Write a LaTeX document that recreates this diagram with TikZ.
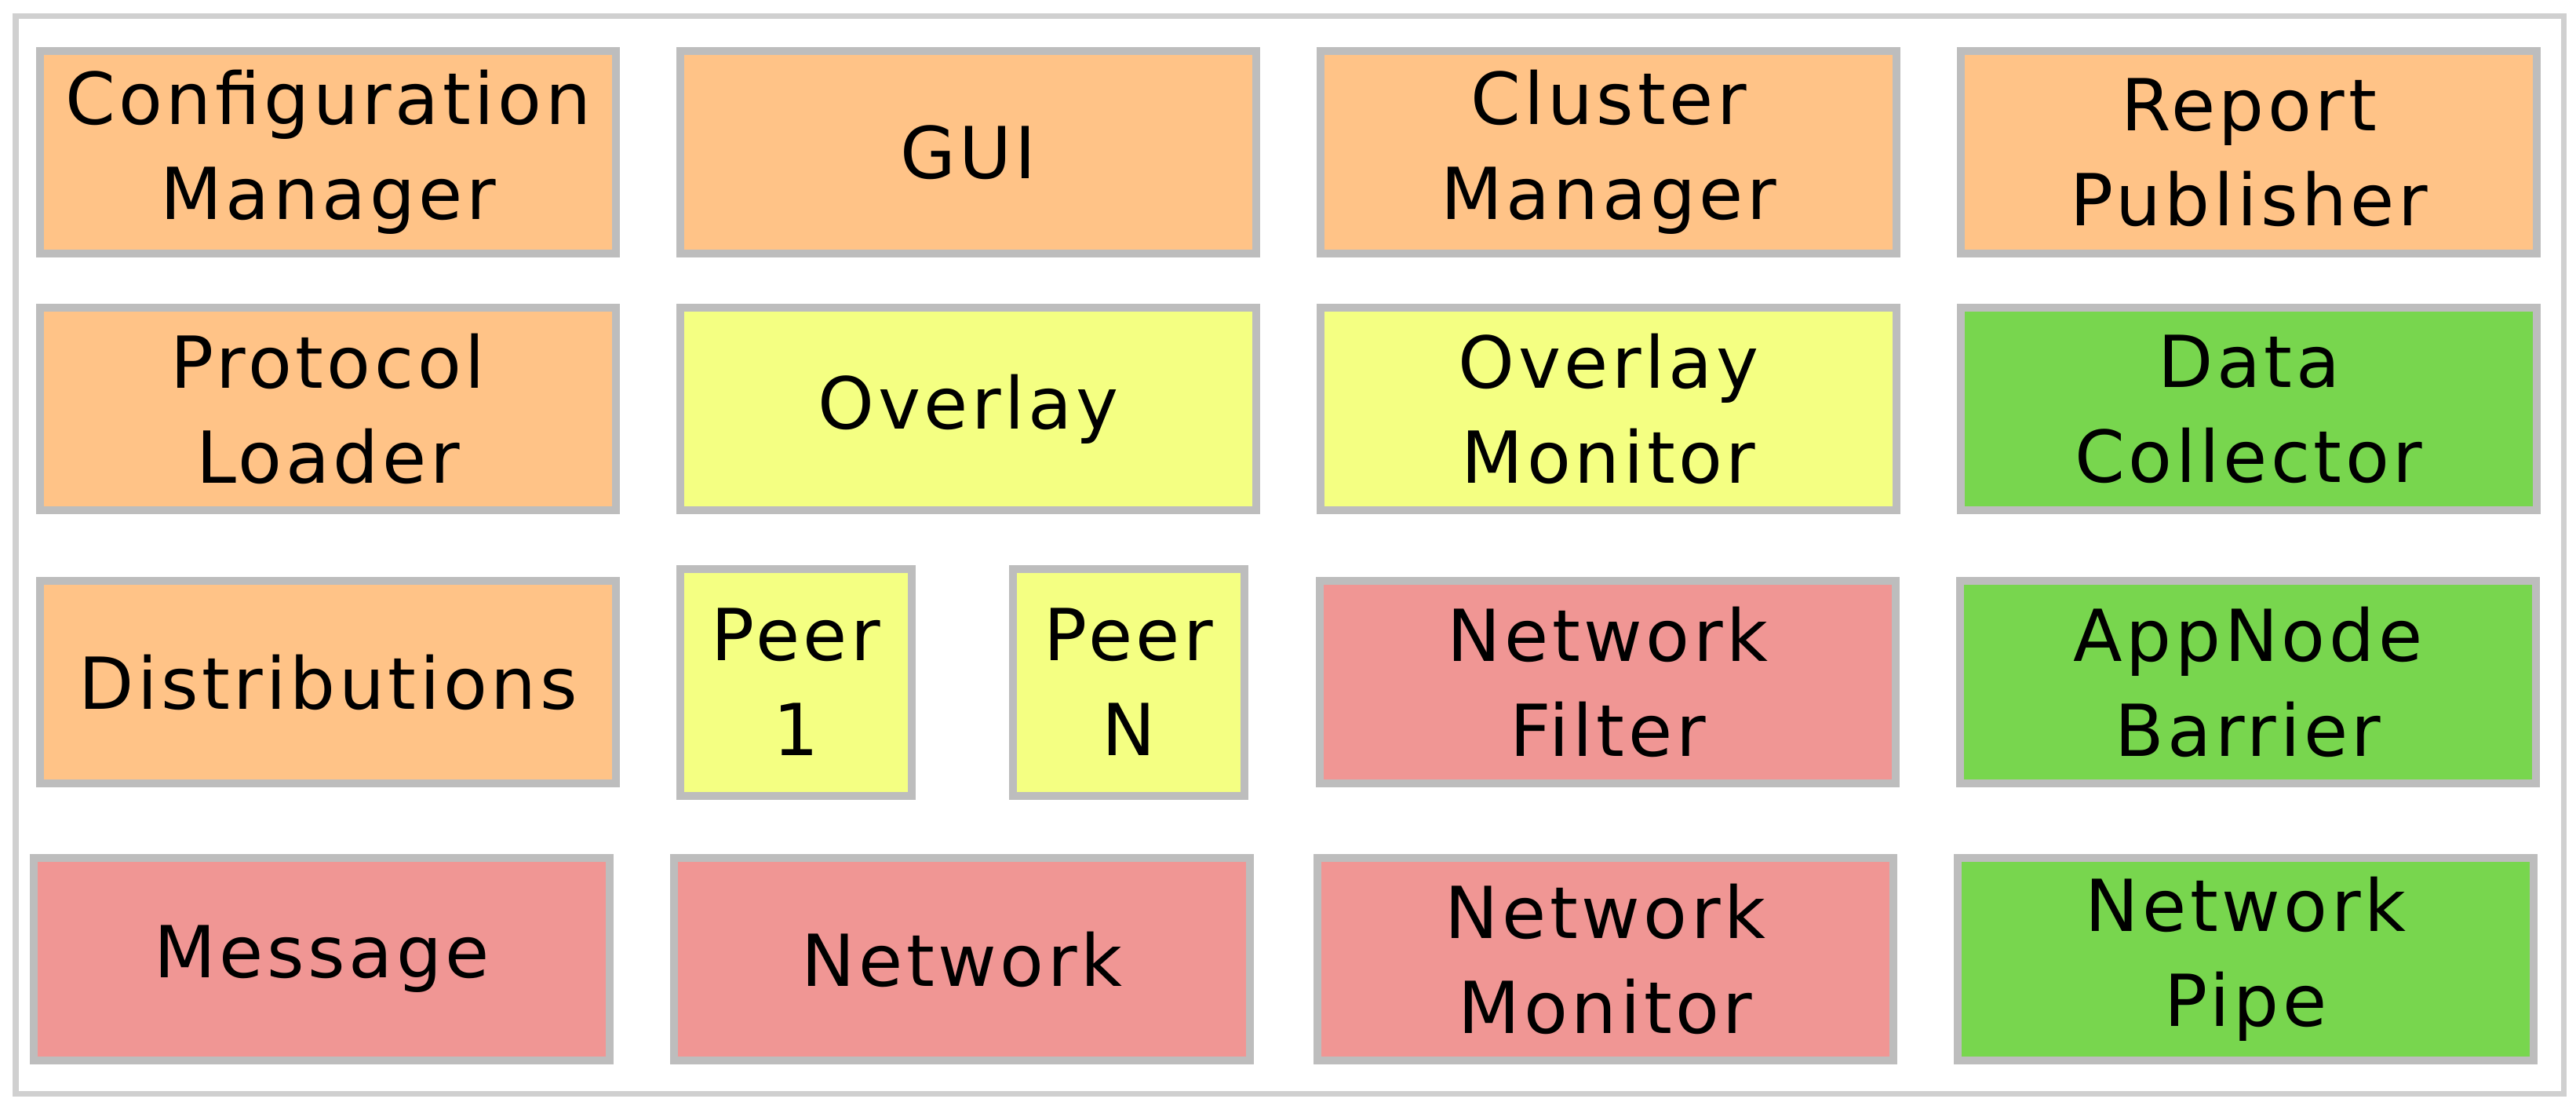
\documentclass[tikz,border=0pt]{standalone}
\usepackage{fontspec}
\setmainfont{DejaVu Sans}[LetterSpace=5]
\usetikzlibrary{positioning}
\definecolor{cfgorange}{HTML}{FFC387}
\definecolor{ovlyellow}{HTML}{F4FF82}
\definecolor{netred}{HTML}{F09694}
\definecolor{datagreen}{HTML}{78D64E}
\definecolor{boxgray}{HTML}{BDBDBD}
\definecolor{framegray}{HTML}{D0D0D0}
\tikzset{
    module/.style = {draw=boxgray, line width=0.1cm, align=center,
        minimum width=7.34cm, minimum height=2.58cm, inner sep=0pt,
        font=\fontsize{26}{34.5}\selectfont},
    peer/.style = {module, minimum width=2.95cm, minimum height=2.89cm},
    core/.style = {module, fill=cfgorange},
    overlay/.style = {fill=ovlyellow},
    network/.style = {fill=netred},
    data/.style = {fill=datagreen}
}

\begin{document}
\begin{tikzpicture}
    \useasboundingbox (0,0) rectangle (32.83,-14.08);
    \draw[framegray, line width=0.07cm] (0.2,-0.2) rectangle (32.67,-13.93);

    % top row
    \node[core] (config) at (4.18,-1.94) {Configuration\\Manager};
    \node[core] (gui) [right=0.72cm of config] {GUI};
    \node[core] (cluster) [right=0.72cm of gui] {Cluster\\Manager};
    \node[core] (report) [right=0.72cm of cluster] {Report\\Publisher};

    % overlay row
    \node[core] (loader) at (4.18,-5.21) {Protocol\\Loader};
    \node[module,overlay] (overlay) [right=0.72cm of loader] {Overlay};
    \node[module,overlay] (ovlmon) [right=0.72cm of overlay] {Overlay\\Monitor};
    \node[module,data] (collector) [right=0.72cm of ovlmon] {Data\\Collector};

    % peer row
    \node[core] (distrib) at (4.18,-8.69) {Distributions};
    \node[peer,overlay] (peerone) [right=0.72cm of distrib] {Peer\\1};
    \node[peer,overlay] (peern) [right=1.19cm of peerone] {Peer\\N};
    \node[module,network] (filter) [right=0.86cm of peern] {Network\\Filter};
    \node[module,data] (barrier) [right=0.72cm of filter] {AppNode\\Barrier};

    % bottom row
    \node[module,network] (message) at (4.10,-12.22) {Message};
    \node[module,network] (network) [right=0.72cm of message] {Network};
    \node[module,network] (netmon) [right=0.76cm of network] {Network\\Monitor};
    \node[module,data] (pipe) [right=0.72cm of netmon] {Network\\Pipe};
\end{tikzpicture}
\end{document}
